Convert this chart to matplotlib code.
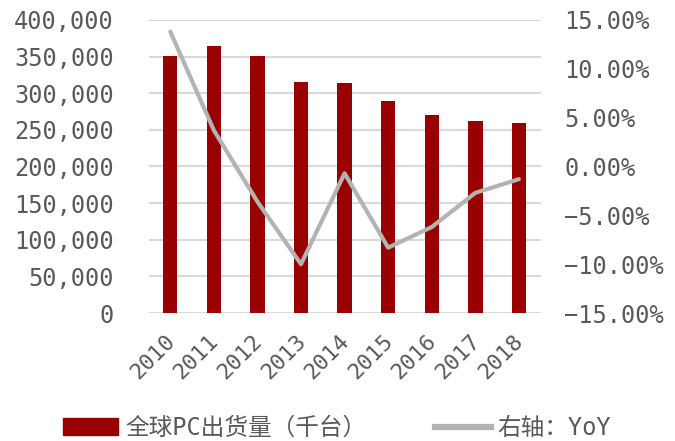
import matplotlib.pyplot as plt
import matplotlib.transforms as mtransforms
from matplotlib.ticker import FuncFormatter

plt.rcParams['font.family'] = ['DejaVu Sans Mono', 'Noto Sans CJK SC']

years = ['2010', '2011', '2012', '2013', '2014', '2015', '2016', '2017', '2018']
shipments = [350900, 364000, 351000, 315900, 313700, 288700, 269700, 262500, 259400]
yoy = [13.8, 3.7, -3.6, -10.0, -0.7, -8.3, -6.2, -2.7, -1.3]

bar_color = '#990000'
line_color = '#b3b3b3'
text_color = '#595959'

fig = plt.figure(figsize=(6.75, 4.41), dpi=100)
ax = fig.add_axes([0.220, 0.290, 0.581, 0.665])
x = range(len(years))

ax.bar(x, shipments, width=0.33, color=bar_color, zorder=2)
ax.set_ylim(0, 400000)
ax.set_yticks(range(0, 400001, 50000))
ax.yaxis.set_major_formatter(FuncFormatter(lambda v, p: f'{int(v):,}'))
ax.set_xlim(-0.5, len(years) - 0.5)
ax.set_xticks(list(x))
ax.set_xticklabels(years, rotation=45, ha='right', rotation_mode='anchor')
ax.grid(axis='y', color='#d9d9d9', linewidth=1.5, zorder=0)
ax.tick_params(axis='y', length=0, labelsize=17, colors=text_color, pad=25)
ax.tick_params(axis='x', length=0, labelsize=16, colors=text_color, pad=13)
shift = mtransforms.ScaledTranslation(-4 / 72, 0, fig.dpi_scale_trans)
for lab in ax.get_xticklabels():
    lab.set_transform(lab.get_transform() + shift)
for s in ax.spines.values():
    s.set_visible(False)

ax2 = ax.twinx()
ax2.plot(list(x), yoy, color=line_color, linewidth=3, solid_capstyle='round', zorder=3)
ax2.set_ylim(-15, 15)
ax2.set_yticks(range(-15, 16, 5))
ax2.yaxis.set_major_formatter(FuncFormatter(lambda v, p: f'{v:.2f}%'.replace('-', '\u2212')))
ax2.tick_params(length=0, labelsize=17, colors=text_color, pad=17)
for s in ax2.spines.values():
    s.set_visible(False)

h1 = plt.Rectangle((0, 0), 1, 1, color=bar_color)
h2 = plt.Line2D([0], [0], color=line_color, linewidth=4.5)
fig.legend([h1, h2], ['全球PC出货量（千台）', '右轴：YoY'], loc='center left',
           bbox_to_anchor=(63 / 675, 1 - 428 / 441), ncol=2, frameon=False,
           prop={'family': ['DejaVu Sans Mono', 'Noto Sans CJK SC'], 'size': 17},
           labelcolor=text_color, handlelength=2.35, handletextpad=0.3,
           columnspacing=2.9, borderpad=0, borderaxespad=0)

fig.savefig('out.png', dpi=100)
